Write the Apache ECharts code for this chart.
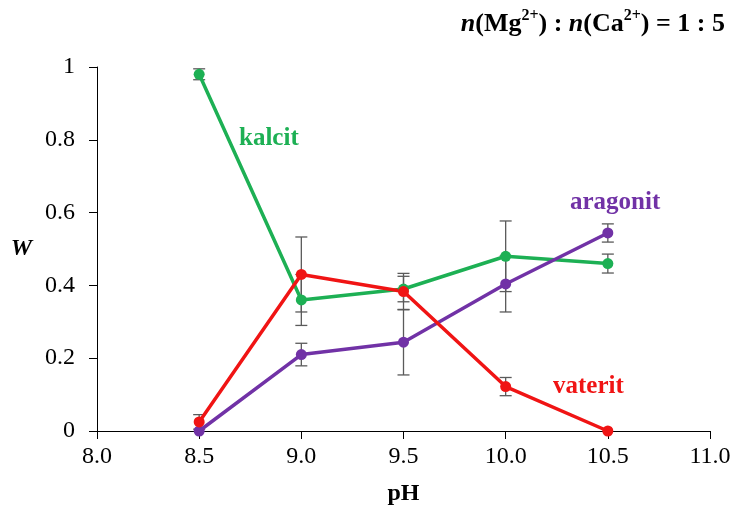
<!DOCTYPE html>
<html>
<head>
<meta charset="utf-8">
<script src="https://cdn.jsdelivr.net/npm/echarts@6/dist/echarts.min.js"></script>
<style>html,body{margin:0;padding:0;background:#fff}#c{width:735px;height:509px}</style>
</head>
<body>
<div id="c"></div>
<script>
const pH = [8.5, 9.0, 9.5, 10.0, 10.5];
const kalcit = [0.98, 0.36, 0.39, 0.48, 0.46];
const kalcitErr = [0.015, 0.07, 0.035, 0.097, 0.026];
const vaterit = [0.025, 0.43, 0.383, 0.122, 0.0];
const vateritErr = [0.02, 0.103, 0.05, 0.025, 0.0];
const aragonit = [0.0, 0.21, 0.244, 0.404, 0.544];
const aragonitErr = [0.0, 0.031, 0.09, 0.077, 0.025];
const xTicks = ['8.0','8.5','9.0','9.5','10.0','10.5','11.0'];
const yTicks = ['0','0.2','0.4','0.6','0.8','1'];

const FONT = 'Liberation Serif';
const GREEN = '#1db054', RED = '#f01414', PURPLE = '#7132a6', GREY = '#5a5a5a';

function pts(v){ return pH.map((x,i)=>[x, v[i]]); }
function errs(v,e){ return pH.map((x,i)=>[x, v[i]-e[i], v[i]+e[i]]).filter((d,i)=>e[i]>0); }

function errSeries(v,e){
  return {
    type:'custom', z:1, silent:true,
    data: errs(v,e),
    renderItem: function(params, api){
      const x=api.value(0), lo=api.value(1), hi=api.value(2);
      const a=api.coord([x,hi]), b=api.coord([x,lo]);
      const w=6;
      const st={stroke:GREY, lineWidth:1.3};
      return {type:'group', children:[
        {type:'line', shape:{x1:a[0],y1:a[1],x2:b[0],y2:b[1]}, style:st},
        {type:'line', shape:{x1:a[0]-w,y1:a[1],x2:a[0]+w,y2:a[1]}, style:st},
        {type:'line', shape:{x1:b[0]-w,y1:b[1],x2:b[0]+w,y2:b[1]}, style:st}
      ]};
    }
  };
}
function lineSeries(name, v, color){
  return {name, type:'line', z:3, data: pts(v), symbol:'circle', symbolSize:11,
    lineStyle:{color, width:3.5}, itemStyle:{color}};
}

const chart = echarts.init(document.getElementById('c'), null, {renderer:'canvas'});
chart.setOption({
  animation:false,
  backgroundColor:'#fff',
  title:{
    right:5, top:3,
    text:'{i|n}{b|(Mg}{s|2+}{b|) : }{i|n}{b|(Ca}{s|2+}{b|) = 1 : 5}',
    textStyle:{
      rich:{
        i:{fontFamily:FONT, fontSize:26, fontWeight:'bold', fontStyle:'italic', color:'#000', lineHeight:32},
        b:{fontFamily:FONT, fontSize:26, fontWeight:'bold', color:'#000', lineHeight:32},
        s:{fontFamily:FONT, fontSize:16, fontWeight:'bold', color:'#000', verticalAlign:'top', lineHeight:32, padding:[0,0,12,0]}
      }
    }
  },
  grid:{left:97, right:25, top:67, bottom:78, containLabel:false, outerBoundsMode:'none'},
  xAxis:{
    type:'value', min:8, max:11, interval:0.5,
    name:'pH', nameLocation:'middle', nameGap:51,
    nameTextStyle:{fontFamily:FONT, fontSize:24, fontWeight:'bold', color:'#000'},
    axisLine:{lineStyle:{color:'#000', width:1}},
    axisTick:{show:true, length:8, lineStyle:{color:'#000'}},
    axisLabel:{fontFamily:FONT, fontSize:24, color:'#000', margin:14,
      formatter:function(v){ return xTicks[Math.round((v-8)/0.5)]; }},
    splitLine:{show:false}
  },
  yAxis:{
    type:'value', min:0, max:1, interval:0.2,
    name:'W', nameLocation:'middle', nameGap:65, nameRotate:0,
    nameTextStyle:{fontFamily:FONT, fontSize:24, fontWeight:'bold', fontStyle:'italic', color:'#000'},
    axisLine:{show:true, lineStyle:{color:'#000', width:1}},
    axisTick:{show:true, length:8, lineStyle:{color:'#000'}},
    axisLabel:{fontFamily:FONT, fontSize:24, color:'#000', margin:22,
      formatter:function(v){ return yTicks[Math.round(v/0.2)]; }},
    splitLine:{show:false}
  },
  graphic:[
    {type:'text', left:239, top:126, style:{text:'kalcit', fill:GREEN, font:'bold 25px "Liberation Serif"'}},
    {type:'text', left:570, top:190, style:{text:'aragonit', fill:PURPLE, font:'bold 25px "Liberation Serif"'}},
    {type:'text', left:553, top:374, style:{text:'vaterit', fill:RED, font:'bold 25px "Liberation Serif"'}}
  ],
  series:[
    errSeries(kalcit, kalcitErr),
    errSeries(vaterit, vateritErr),
    errSeries(aragonit, aragonitErr),
    lineSeries('kalcit', kalcit, GREEN),
    lineSeries('aragonit', aragonit, PURPLE),
    lineSeries('vaterit', vaterit, RED)
  ]
});
</script>
</body>
</html>
